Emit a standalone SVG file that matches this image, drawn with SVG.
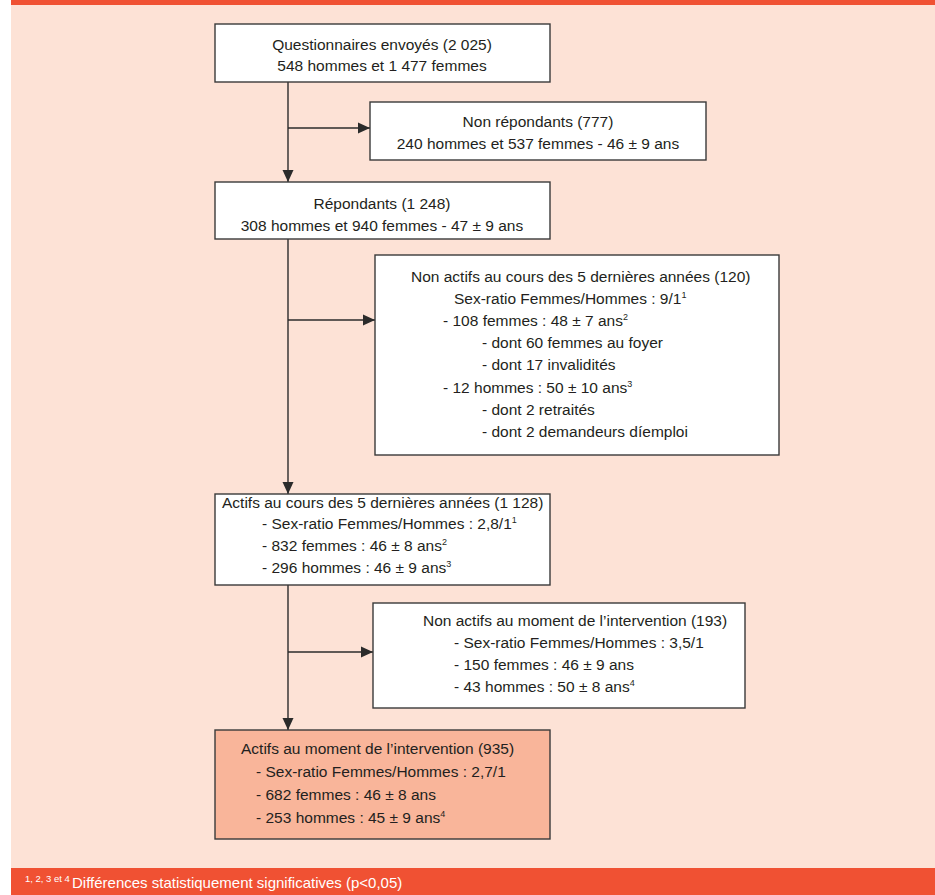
<svg xmlns="http://www.w3.org/2000/svg" width="935" height="895" viewBox="0 0 935 895">
<defs>
<style>
.t{font-family:"Liberation Sans",Arial,sans-serif;font-size:15.5px;fill:#231f20}
.c{text-anchor:middle}
.box{fill:#ffffff;stroke:#3a3a3a;stroke-width:1.4}
.hl{fill:#f9b59a}
.ln{fill:none;stroke:#2b2b2b;stroke-width:1.4}
.sup{font-size:9px}
.ft{font-family:"Liberation Sans",Arial,sans-serif;font-size:15px;fill:#ffffff}
.fs{font-family:"Liberation Sans",Arial,sans-serif;font-size:9.5px;fill:#ffffff}
</style>
<marker id="ah" markerUnits="userSpaceOnUse" markerWidth="12" markerHeight="12" viewBox="0 0 12 12" refX="12" refY="6" orient="auto">
<path d="M0,0.5 L12,6 L0,11.5 Z" fill="#2b2b2b"/>
</marker>
</defs>
<rect x="0" y="0" width="935" height="895" fill="#ffffff"/>
<rect x="11" y="0" width="924" height="868" fill="#fde2d6"/>
<rect x="11" y="0" width="924" height="5" fill="#f05133"/>
<rect x="11" y="868" width="924" height="27" fill="#f05133"/>

<g id="connectors">
<line class="ln" x1="288" y1="82" x2="288" y2="182" marker-end="url(#ah)"/>
<line class="ln" x1="288" y1="128" x2="370" y2="128" marker-end="url(#ah)"/>
<line class="ln" x1="288" y1="239" x2="288" y2="494" marker-end="url(#ah)"/>
<line class="ln" x1="288" y1="320" x2="375" y2="320" marker-end="url(#ah)"/>
<line class="ln" x1="288" y1="585" x2="288" y2="730" marker-end="url(#ah)"/>
<line class="ln" x1="288" y1="652" x2="373" y2="652" marker-end="url(#ah)"/>
</g>

<g id="questionnaires">
<rect class="box" x="215" y="24" width="335" height="58"/>
<text class="t c" x="382" y="50">Questionnaires envoyés (2 025)</text>
<text class="t c" x="382" y="71">548 hommes et 1 477 femmes</text>
</g>

<g id="non-repondants">
<rect class="box" x="370" y="102" width="336" height="58"/>
<text class="t c" x="538" y="127">Non répondants (777)</text>
<text class="t c" x="538" y="149">240 hommes et 537 femmes - 46 ± 9 ans</text>
</g>

<g id="repondants">
<rect class="box" x="215" y="182" width="335" height="57"/>
<text class="t c" x="382" y="209">Répondants (1 248)</text>
<text class="t c" x="382" y="231">308 hommes et 940 femmes - 47 ± 9 ans</text>
</g>

<g id="non-actifs-5ans">
<rect class="box" x="375" y="255" width="404" height="200"/>
<text class="t" x="411" y="282">Non actifs au cours des 5 dernières années (120)</text>
<text class="t" x="454" y="304">Sex-ratio Femmes/Hommes : 9/1<tspan class="sup" dy="-6">1</tspan></text>
<text class="t" x="443" y="326">- 108 femmes : 48 ± 7 ans<tspan class="sup" dy="-6">2</tspan></text>
<text class="t" x="482" y="348">- dont 60 femmes au foyer</text>
<text class="t" x="482" y="370">- dont 17 invalidités</text>
<text class="t" x="443" y="393">- 12 hommes : 50 ± 10 ans<tspan class="sup" dy="-6">3</tspan></text>
<text class="t" x="482" y="415">- dont 2 retraités</text>
<text class="t" x="482" y="437">- dont 2 demandeurs díemploi</text>
</g>

<g id="actifs-5ans">
<rect class="box" x="215" y="494" width="335" height="91"/>
<text class="t" x="222" y="508">Actifs au cours des 5 dernières années (1 128)</text>
<text class="t" x="262" y="529">- Sex-ratio Femmes/Hommes : 2,8/1<tspan class="sup" dy="-6">1</tspan></text>
<text class="t" x="262" y="551">- 832 femmes : 46 ± 8 ans<tspan class="sup" dy="-6">2</tspan></text>
<text class="t" x="262" y="573">- 296 hommes : 46 ± 9 ans<tspan class="sup" dy="-6">3</tspan></text>
</g>

<g id="non-actifs-intervention">
<rect class="box" x="373" y="603" width="372" height="105"/>
<text class="t" x="423" y="626">Non actifs au moment de l’intervention (193)</text>
<text class="t" x="454" y="648">- Sex-ratio Femmes/Hommes : 3,5/1</text>
<text class="t" x="454" y="670">- 150 femmes : 46 ± 9 ans</text>
<text class="t" x="454" y="692">- 43 hommes : 50 ± 8 ans<tspan class="sup" dy="-6">4</tspan></text>
</g>

<g id="actifs-intervention">
<rect class="box hl" x="215" y="730" width="335" height="109"/>
<text class="t" x="241" y="754">Actifs au moment de l’intervention (935)</text>
<text class="t" x="256" y="777">- Sex-ratio Femmes/Hommes : 2,7/1</text>
<text class="t" x="256" y="800">- 682 femmes : 46 ± 8 ans</text>
<text class="t" x="256" y="823">- 253 hommes : 45 ± 9 ans<tspan class="sup" dy="-6">4</tspan></text>
</g>

<g id="footer">
<text class="fs" x="25" y="882">1, 2, 3 et 4</text>
<text class="ft" x="72" y="888">Différences statistiquement significatives (p&lt;0,05)</text>
</g>
</svg>
